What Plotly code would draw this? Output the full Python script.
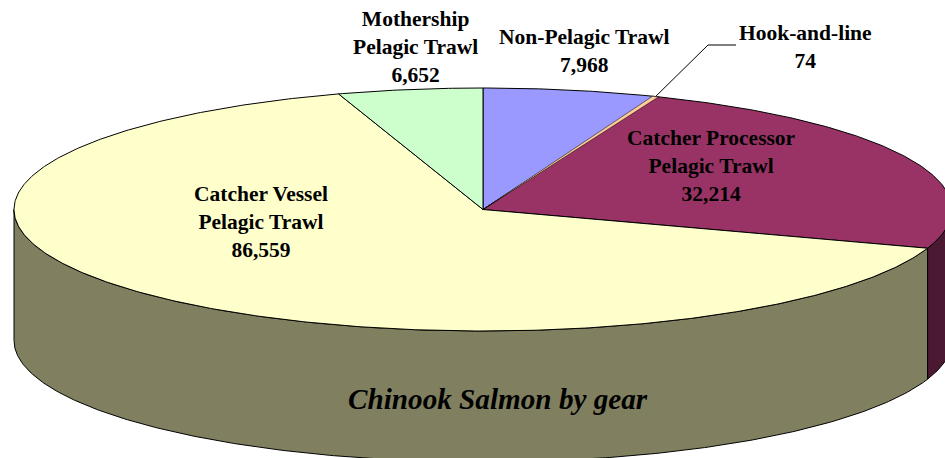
import numpy as np
import plotly.graph_objects as go

# Data, clockwise from 12 o'clock
gears = ["Non-Pelagic Trawl", "Hook-and-line", "Catcher Processor Pelagic Trawl",
         "Catcher Vessel Pelagic Trawl", "Mothership Pelagic Trawl"]
catch = [7968, 74, 32214, 86559, 6652]
top_colors = ["#9999FF", "#FFCC99", "#993366", "#FFFFCC", "#CCFFCC"]
side_colors = ["#4C4C80", "#80664C", "#4C1933", "#808060", "#668066"]
label_lines = [["Non-Pelagic Trawl"], ["Hook-and-line"], ["Catcher Processor", "Pelagic Trawl"],
               ["Catcher Vessel", "Pelagic Trawl"], ["Mothership", "Pelagic Trawl"]]
label_x = [584, 805, 711, 261, 415]
label_y = [51, 47, 166, 222, 47]
title_text = "Chinook Salmon by gear"

W, H = 945, 458
CX, CY, RX, RY, DEPTH = 483, 209.5, 469, 121.5, 131
MIN_VISIBLE_DEG = 0.8  # very thin slices are drawn at least this wide, as in the source chart


def arc(a0, a1, dy=0.0):
    t = np.radians(np.linspace(a0, a1, max(int(abs(a1 - a0) * 2), 2)))
    return CX + RX * np.sin(t), CY + dy - RY * np.cos(t)


fig = go.Figure()
line = dict(color="black", width=1)


def poly(x, y, color, name, width=1):
    fig.add_trace(go.Scatter(x=np.append(x, x[0]), y=np.append(y, y[0]), mode="lines", fill="toself",
                             fillcolor=color, line=dict(color="black", width=width), name=name,
                             hoverinfo="name"))


edges = np.concatenate([[0], np.cumsum(catch) / sum(catch) * 360])

# Rim of the disc: only the part facing the viewer (90 to 270 degrees)
for i, g in enumerate(gears):
    a0, a1 = max(edges[i], 90), min(edges[i + 1], 270)
    if a1 > a0:
        tx, ty = arc(a0, a1)
        bx, by = arc(a1, a0, DEPTH)
        poly(np.concatenate([tx, bx]), np.concatenate([ty, by]), side_colors[i], g + " rim")

# Top face; thin slices go last so that they stay visible
sweep = np.diff(edges)
for i in np.argsort(sweep < MIN_VISIBLE_DEG, kind="stable"):
    a0, a1 = edges[i], edges[i + 1]
    thin = sweep[i] < MIN_VISIBLE_DEG
    if thin:
        mid_a = (a0 + a1) / 2
        a0, a1 = mid_a - MIN_VISIBLE_DEG / 2, mid_a + MIN_VISIBLE_DEG / 2
    ax, ay = arc(a0, a1)
    poly(np.concatenate([[CX], ax]), np.concatenate([[CY], ay]), top_colors[i], gears[i],
         width=0.5 if thin else 1)

# Leader for the smallest slice, starting on its outer edge
mid = np.radians((edges[1] + edges[2]) / 2)
lx0, ly0 = CX + RX * np.sin(mid), CY - RY * np.cos(mid)
fig.add_trace(go.Scatter(x=[lx0, 708, 736], y=[ly0, 45, 45], mode="lines", line=line, hoverinfo="skip"))

font = dict(family="Liberation Serif", size=21.5, color="black")
for i in range(len(gears)):
    txt = "<br>".join(label_lines[i] + [f"{catch[i]:,}"])
    fig.add_annotation(x=label_x[i], y=label_y[i], text=f"<b>{txt}</b>", showarrow=False, font=font,
                       align="center", xanchor="center", yanchor="middle")
fig.add_annotation(x=498, y=399, text=f"<b><i>{title_text}</i></b>", showarrow=False,
                   font=dict(family="Liberation Serif", size=29.2, color="black"))

axis = dict(visible=False, showgrid=False, zeroline=False, fixedrange=True)
fig.update_layout(width=W, height=H, margin=dict(l=0, r=0, t=0, b=0), paper_bgcolor="white",
                  plot_bgcolor="white", showlegend=False,
                  xaxis=dict(range=[0, W], **axis), yaxis=dict(range=[H, 0], **axis))
fig.write_html("out.html", config={"displayModeBar": False},
               post_script="document.body.style.margin='0';document.documentElement.style.overflow='hidden';")
